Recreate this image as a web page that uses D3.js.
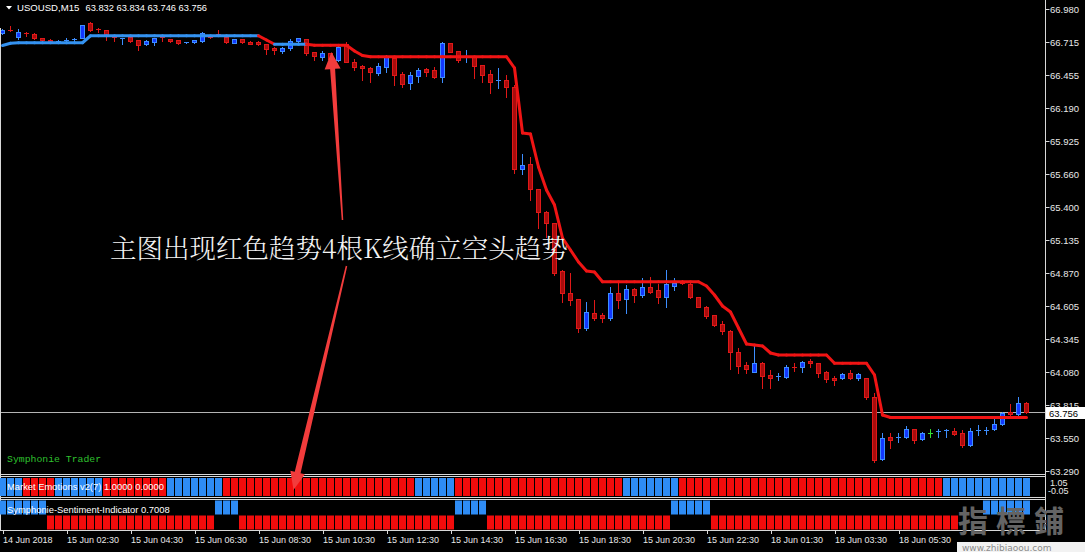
<!DOCTYPE html>
<html><head><meta charset="utf-8">
<script src="https://cdn.jsdelivr.net/npm/d3@7"></script>
<style>html,body{margin:0;padding:0;background:#000;overflow:hidden}svg{display:block}</style>
</head><body><svg id="c" width="1085" height="552"></svg>
<script>
// ---------- DATA ----------
const opens=[66.790,66.816,66.760,66.792,66.782,66.748,66.736,66.718,66.724,66.732,66.748,66.868,66.822,66.814,66.760,66.740,66.760,66.734,66.700,66.720,66.756,66.742,66.734,66.710,66.720,66.726,66.760,66.780,66.760,66.712,66.742,66.720,66.716,66.700,66.668,66.646,66.668,66.726,66.742,66.636,66.600,66.628,66.574,66.702,66.560,66.526,66.508,66.472,66.520,66.588,66.462,66.392,66.446,66.502,66.494,66.440,66.708,66.646,66.588,66.600,66.534,66.462,66.406,66.414,66.356,65.700,65.742,65.540,65.360,65.268,64.888,64.708,64.660,64.430,64.550,64.534,64.508,64.708,64.660,64.740,64.694,64.760,64.734,64.676,64.768,64.808,64.782,64.676,64.600,64.534,64.462,64.408,64.240,64.134,64.080,64.148,64.054,64.036,64.040,64.120,64.116,64.166,64.148,64.080,64.028,64.028,64.068,64.028,64.028,63.876,63.380,63.560,63.550,63.556,63.620,63.540,63.592,63.598,63.608,63.608,63.592,63.494,63.612,63.612,63.620,63.662,63.758,63.742,63.832];
const highs=[66.822,66.846,66.822,66.800,66.790,66.752,66.742,66.730,66.752,66.752,66.854,66.880,66.828,66.814,66.760,66.748,66.768,66.734,66.734,66.748,66.768,66.742,66.736,66.720,66.734,66.796,66.768,66.814,66.766,66.742,66.744,66.724,66.726,66.702,66.678,66.680,66.742,66.750,66.744,66.640,66.646,66.630,66.694,66.716,66.582,66.534,66.520,66.548,66.614,66.598,66.478,66.480,66.508,66.510,66.518,66.720,66.712,66.646,66.654,66.600,66.534,66.494,66.510,66.454,66.374,65.822,65.800,65.542,65.366,65.270,64.894,64.870,64.662,64.638,64.654,64.550,64.760,64.800,64.774,64.750,64.830,64.840,64.782,64.894,64.830,64.814,64.786,64.680,64.606,64.536,64.486,64.414,64.270,64.160,64.286,64.158,64.094,64.072,64.134,64.148,64.166,64.180,64.150,64.086,64.046,64.066,64.094,64.072,64.030,63.912,63.588,63.592,63.592,63.646,63.622,63.600,63.620,63.620,63.618,63.628,63.614,63.628,63.654,63.640,63.708,63.760,63.822,63.880,63.834];
const lows=[66.782,66.802,66.742,66.768,66.742,66.726,66.714,66.714,66.718,66.720,66.748,66.806,66.796,66.734,66.726,66.702,66.720,66.654,66.694,66.694,66.726,66.718,66.704,66.708,66.708,66.722,66.748,66.766,66.712,66.710,66.712,66.700,66.694,66.622,66.622,66.628,66.654,66.722,66.614,66.574,66.574,66.560,66.570,66.558,66.494,66.414,66.400,66.454,66.480,66.374,66.356,66.340,66.400,66.446,66.430,66.400,66.636,66.558,66.560,66.428,66.400,66.310,66.350,66.280,65.672,65.662,65.454,65.228,65.160,64.854,64.640,64.614,64.398,64.414,64.494,64.478,64.494,64.590,64.550,64.640,64.678,64.708,64.630,64.600,64.734,64.782,64.670,64.598,64.510,64.446,64.382,64.100,64.068,64.068,64.078,63.948,63.948,64.014,64.028,64.088,64.080,64.120,64.040,64.000,63.974,64.022,64.020,64.014,63.860,63.360,63.374,63.468,63.520,63.548,63.512,63.534,63.560,63.560,63.560,63.574,63.480,63.488,63.574,63.582,63.614,63.654,63.734,63.734,63.746];
const closes=[66.814,66.806,66.800,66.780,66.748,66.732,66.720,66.726,66.734,66.742,66.854,66.814,66.810,66.774,66.748,66.748,66.726,66.694,66.726,66.748,66.748,66.726,66.708,66.720,66.734,66.788,66.756,66.768,66.716,66.740,66.716,66.702,66.704,66.660,66.654,66.672,66.726,66.748,66.628,66.608,66.628,66.582,66.680,66.560,66.520,66.508,66.480,66.526,66.596,66.454,66.382,66.454,66.494,66.480,66.440,66.708,66.636,66.574,66.596,66.526,66.454,66.400,66.414,66.356,65.700,65.734,65.540,65.360,65.268,64.872,64.708,64.654,64.430,64.558,64.510,64.508,64.708,64.654,64.740,64.694,64.756,64.720,64.676,64.782,64.792,64.788,64.676,64.600,64.526,64.454,64.408,64.240,64.126,64.100,64.148,64.046,64.032,64.044,64.116,64.108,64.160,64.148,64.072,64.020,64.014,64.062,64.028,64.062,63.876,63.374,63.548,63.534,63.558,63.620,63.534,63.588,63.592,63.604,63.614,63.582,63.494,63.608,63.616,63.616,63.662,63.748,63.742,63.828,63.756];
// trend line (Symphonie trend) value and direction (1 = up/blue, -1 = down/red)
const trendLine=[66.690,66.708,66.712,66.712,66.712,66.712,66.712,66.712,66.712,66.712,66.712,66.768,66.768,66.768,66.768,66.768,66.768,66.768,66.768,66.768,66.768,66.768,66.768,66.768,66.768,66.768,66.768,66.768,66.768,66.768,66.768,66.768,66.768,66.734,66.700,66.700,66.700,66.700,66.700,66.692,66.692,66.692,66.692,66.692,66.646,66.610,66.600,66.600,66.600,66.600,66.600,66.600,66.600,66.600,66.600,66.600,66.600,66.600,66.600,66.600,66.600,66.600,66.600,66.600,66.510,65.990,65.982,65.718,65.534,65.414,65.150,65.054,64.958,64.886,64.878,64.800,64.800,64.800,64.800,64.800,64.800,64.800,64.800,64.800,64.800,64.800,64.800,64.800,64.766,64.694,64.606,64.558,64.430,64.302,64.294,64.286,64.230,64.214,64.214,64.214,64.214,64.214,64.214,64.214,64.148,64.148,64.148,64.148,64.148,64.054,63.734,63.714,63.714,63.714,63.714,63.714,63.714,63.714,63.714,63.714,63.714,63.714,63.714,63.714,63.714,63.714,63.714,63.714,63.714];
const trendDir=[1,1,1,1,1,1,1,1,1,1,1,1,1,1,1,1,1,1,1,1,1,1,1,1,1,1,1,1,1,1,1,1,1,-1,-1,1,1,1,1,-1,-1,-1,-1,-1,-1,-1,-1,-1,-1,-1,-1,-1,-1,-1,-1,-1,-1,-1,-1,-1,-1,-1,-1,-1,-1,-1,-1,-1,-1,-1,-1,-1,-1,-1,-1,-1,-1,-1,-1,-1,-1,-1,-1,-1,-1,-1,-1,-1,-1,-1,-1,-1,-1,-1,-1,-1,-1,-1,-1,-1,-1,-1,-1,-1,-1,-1,-1,-1,-1,-1,-1,-1,-1,-1,-1,-1,-1,-1,-1,-1,-1,-1,-1,-1,-1,-1,-1,-1,-1];
// Market Emotions v2: 1 = blue, 0 = red
const emotions=[1,1,1,0,0,0,0,1,1,1,1,1,1,0,0,0,0,0,0,0,0,1,1,1,1,1,1,1,0,0,0,0,0,0,0,0,0,0,0,0,0,0,0,0,0,0,0,0,0,0,0,0,1,1,1,1,1,0,0,0,0,0,0,0,0,0,0,0,0,0,0,0,0,0,0,0,0,0,1,1,1,1,1,1,1,0,0,0,0,0,0,0,0,0,0,0,0,0,0,0,0,0,0,0,0,0,0,0,0,0,0,0,0,0,0,0,0,0,1,1,1,1,1,1,1,1,1,1,1];
// Symphonie Sentiment: 1 = blue (upper), -1 = red (lower), 0 = none
const sentiment=[1,1,1,1,1,1,-1,-1,-1,-1,-1,-1,-1,-1,-1,-1,-1,-1,-1,-1,-1,-1,-1,-1,-1,-1,-1,1,1,1,-1,-1,-1,-1,-1,-1,-1,-1,-1,-1,-1,-1,-1,-1,-1,-1,-1,-1,-1,-1,-1,-1,-1,-1,-1,-1,-1,1,1,1,1,-1,-1,-1,-1,-1,-1,-1,-1,-1,-1,-1,-1,-1,-1,-1,-1,-1,-1,-1,-1,-1,-1,-1,1,1,1,1,1,-1,-1,-1,-1,-1,-1,-1,-1,-1,-1,-1,-1,-1,-1,-1,-1,-1,-1,-1,-1,-1,-1,-1,-1,-1,-1,-1,-1,-1,-1,-1,0,0,0,1,1,1,1,1,1];
const priceTicks=[66.980,66.715,66.455,66.190,65.925,65.660,65.400,65.135,64.870,64.605,64.345,64.080,63.815,63.550,63.290];
const timeTickBars=[0,8,16,24,32,40,48,56,64,72,80,88,96,104,112];
const timeLabels=["14 Jun 2018","15 Jun 02:30","15 Jun 04:30","15 Jun 06:30","15 Jun 08:30","15 Jun 10:30","15 Jun 12:30","15 Jun 14:30","15 Jun 16:30","15 Jun 18:30","15 Jun 20:30","15 Jun 22:30","18 Jun 01:30","18 Jun 03:30","18 Jun 05:30"];
const lastPrice=63.756;
const symbol="USOUSD,M15", ohlcText="63.832 63.834 63.746 63.756";
const annotation="主图出现红色趋势4根K线确立空头趋势";

// ---------- STYLE ----------
const C={bullLine:"#3d8eff",bullFill:"#1238ff",bearLine:"#e01818",bearFill:"#a80c0c",doji:"#33dd33",
  trendUp:"#3492f0",trendDn:"#f01414",boxBlue:"#2e8cf5",boxRed:"#f20c0c",axis:"#e8e8e8",frame:"#d8d8d8"};
const F="'Liberation Sans',Arial,sans-serif";

const svg=d3.select("#c");
const n=opens.length;
const x=d3.scaleBand().domain(d3.range(n)).range([-1.5,-1.5+8*n]).padding(0);
const cx=i=>x(i)+x.bandwidth()/2;
const y=d3.scaleLinear().domain([63.262,67.054]).range([474,0]);
const axisX=1045.5;

svg.append("rect").attr("width",1085).attr("height",552).attr("fill","#000");
svg.append("clipPath").attr("id","main").append("rect").attr("x",0).attr("y",0).attr("width",1045).attr("height",474);
const g=svg.append("g").attr("clip-path","url(#main)");

// current price line
g.append("line").attr("x1",0).attr("x2",axisX).attr("y1",Math.round(y(lastPrice))+0.5).attr("y2",Math.round(y(lastPrice))+0.5)
 .attr("stroke","#b4b4b4").attr("stroke-width",1);

// candles
const cg=g.append("g");
d3.range(n).forEach(i=>{
  const o=opens[i],c=closes[i],h=highs[i],l=lows[i];
  const up=c>o, dn=c<o;
  const line=up?C.bullLine:(dn?C.bearLine:C.doji);
  const fill=up?C.bullFill:C.bearFill;
  const xc=cx(i);
  cg.append("line").attr("x1",xc).attr("x2",xc).attr("y1",Math.round(y(h))).attr("y2",Math.round(y(l))+1)
    .attr("stroke",line).attr("stroke-width",1);
  const t=Math.round(y(Math.max(o,c))), b=Math.round(y(Math.min(o,c)));
  if(b-t<2){
    cg.append("line").attr("x1",xc-2.5).attr("x2",xc+2.5).attr("y1",t+0.5).attr("y2",t+0.5).attr("stroke",line).attr("stroke-width",1);
  } else {
    cg.append("rect").attr("x",xc-2).attr("width",4).attr("y",t+0.5).attr("height",b-t)
      .attr("fill",fill).attr("stroke",line).attr("stroke-width",1);
  }
});

// trend line
const tg=g.append("g");
for(let i=1;i<n;i++){
  tg.append("line").attr("x1",cx(i-1)).attr("y1",y(trendLine[i-1])).attr("x2",cx(i)).attr("y2",y(trendLine[i]))
    .attr("stroke",trendDir[i]>0?C.trendUp:C.trendDn).attr("stroke-width",3).attr("stroke-linecap","round");
}

// annotation arrows
function arrow(x0,y0,x1,y1,w0,w1,hw,hl){
  const dx=x1-x0,dy=y1-y0,L=Math.hypot(dx,dy),ux=dx/L,uy=dy/L,px=-uy,py=ux;
  const bx=x1-ux*hl,by=y1-uy*hl;
  const pts=[[x0+px*w0/2,y0+py*w0/2],[bx+px*w1/2,by+py*w1/2],[bx+px*hw/2,by+py*hw/2],[x1,y1],
    [bx-px*hw/2,by-py*hw/2],[bx-px*w1/2,by-py*w1/2],[x0-px*w0/2,y0-py*w0/2]];
  svg.append("polygon").attr("points",pts.map(p=>p.join(",")).join(" ")).attr("fill","#f23c3c");
}

// annotation text
svg.append("text").attr("x",110).attr("y",258).attr("fill","#f4f4f4").attr("font-size",26.5)
  .attr("font-family","'Noto Serif CJK SC','Noto Sans CJK SC',sans-serif").attr("font-weight",300).text(annotation);

// Symphonie Trader label
svg.append("text").attr("x",7).attr("y",462).attr("fill","#2fc12f").attr("font-size",9.8)
  .attr("font-family","'Liberation Mono','DejaVu Sans Mono',monospace").text("Symphonie Trader");

// frames
const frame=svg.append("g").attr("stroke",C.frame).attr("stroke-width",1);
[474.5,476.5,497.5,499.5,530.5].forEach(v=>frame.append("line").attr("x1",0).attr("x2",axisX).attr("y1",v).attr("y2",v));
frame.append("line").attr("x1",0.5).attr("x2",0.5).attr("y1",28).attr("y2",531);
frame.append("line").attr("x1",axisX).attr("x2",axisX).attr("y1",0).attr("y2",531);

// Market emotions boxes
const eg=svg.append("g");
d3.range(n).forEach(i=>{
  eg.append("rect").attr("x",x(i)+0.5).attr("width",7).attr("y",478).attr("height",18)
    .attr("fill",emotions[i]?C.boxBlue:C.boxRed);
});
// Sentiment boxes
const sg=svg.append("g");
d3.range(n).forEach(i=>{
  if(sentiment[i]===0)return;
  sg.append("rect").attr("x",x(i)+0.5).attr("width",7).attr("y",sentiment[i]>0?500.5:515.5).attr("height",14)
    .attr("fill",sentiment[i]>0?C.boxBlue:C.boxRed);
});
svg.append("text").attr("x",7).attr("y",489.5).attr("fill","#fff").attr("font-size",9.4).attr("font-family",F).text("Market Emotions v2(7) 1.0000 0.0000");
svg.append("text").attr("x",7).attr("y",512.5).attr("fill","#fff").attr("font-size",9.4).attr("font-family",F).text("Symphonie-Sentiment-Indicator 0.7008");

// arrows (drawn over subwindow like reference)
arrow(cx(42)+4,220,cx(41)+1,52,1.5,5,16,17);
arrow(cx(43)+0,266,cx(37)-5,490,1.5,6,15,18);

// price axis
const pa=svg.append("g");
priceTicks.forEach(v=>{
  const yy=Math.round(y(v))+0.5;
  pa.append("line").attr("x1",axisX).attr("x2",axisX+4).attr("y1",yy).attr("y2",yy).attr("stroke",C.frame);
  pa.append("text").attr("x",1050).attr("y",yy+3.5).attr("fill",C.axis).attr("font-size",9.5).attr("font-family",F).text(v.toFixed(3));
});
// last price box
const ly=Math.round(y(lastPrice));
pa.append("rect").attr("x",1046).attr("y",ly-5).attr("width",39).attr("height",12).attr("fill","#fff");
pa.append("text").attr("x",1049).attr("y",ly+4.5).attr("fill","#000").attr("font-size",9.5).attr("font-family",F).text(lastPrice.toFixed(3));
// subwindow scale labels
pa.append("text").attr("x",1050).attr("y",485.5).attr("fill",C.axis).attr("font-size",9).attr("font-family",F).text("1.05");
pa.append("text").attr("x",1048).attr("y",493.5).attr("fill",C.axis).attr("font-size",9).attr("font-family",F).text("-0.05");

// time axis
const ta=svg.append("g");
timeTickBars.forEach((b,k)=>{
  const xx=Math.round(cx(b))+0.5;
  ta.append("line").attr("x1",xx).attr("x2",xx).attr("y1",530).attr("y2",534).attr("stroke",C.frame);
  ta.append("text").attr("x",xx-0.5).attr("y",543).attr("fill",C.axis).attr("font-size",9).attr("font-family",F).text(timeLabels[k]);
});

// title
svg.append("path").attr("d","M6,6 L12,6 L9,9.5 Z").attr("fill","#fff");
svg.append("text").attr("x",17).attr("y",11).attr("fill","#fff").attr("font-size",9.6).attr("font-family",F).text(symbol);
svg.append("text").attr("x",85.5).attr("y",11).attr("fill","#fff").attr("font-size",9.3).attr("font-family",F).text(ohlcText);

// watermark
svg.append("rect").attr("x",957).attr("y",542).attr("width",128).attr("height",10).attr("fill","#f2f2f2");
svg.append("text").attr("x",958).attr("y",532).attr("fill","#646464").attr("font-size",30).attr("font-weight","bold")
  .attr("font-family","'Noto Sans CJK TC','Noto Sans CJK SC',sans-serif").attr("letter-spacing",8).text("指標鋪");
svg.append("text").attr("x",962).attr("y",550.5).attr("fill","#8a8a8a").attr("font-size",9).attr("font-family","'DejaVu Sans',sans-serif").text("www.zhibiaoou.com");
</script></body></html>
